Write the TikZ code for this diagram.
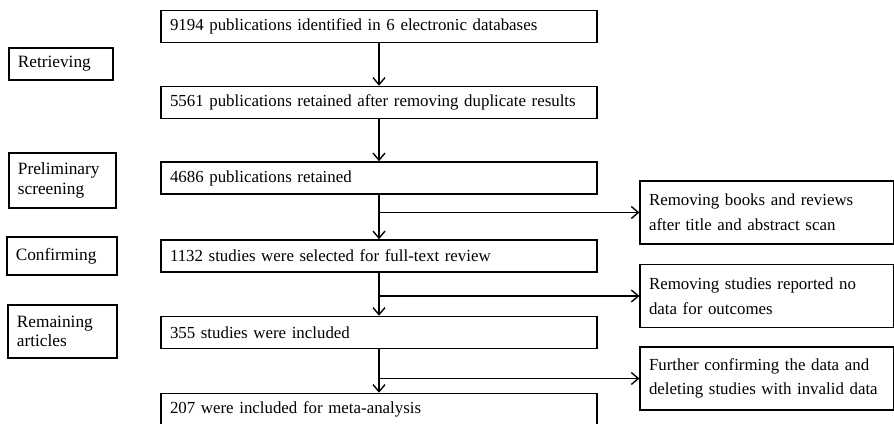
\documentclass[tikz,border=0pt]{standalone}
\usepackage{fontspec}
\setmainfont{Liberation Serif}
\usepackage{tikz}
\usetikzlibrary{arrows.meta,positioning}

\begin{document}
\begin{tikzpicture}[
  mainbox/.style={
    draw=black,
    line width=1.1pt,
    align=left,
    text width=10.45cm,
    minimum height=0.8cm,
    inner xsep=0.22cm,
    inner ysep=3pt
  },
  sidebox/.style={
    draw=black,
    line width=1.1pt,
    align=left,
    text width=5.9cm,
    minimum height=1.575cm,
    inner xsep=0.22cm,
    font=\fontsize{12}{17.5}\selectfont
  },
  stagebox/.style={
    draw=black,
    line width=1.1pt,
    align=left,
    inner xsep=0.22cm,
    font=\fontsize{12.3}{14}\selectfont
  },
  arrow/.style={-{Straight Barb[length=5pt,width=8.5pt]}, line width=1pt},
  every node/.style={font=\fontsize{12}{14}\selectfont}
]
\useasboundingbox (0,0) rectangle (22.35,-10.6);

% stage labels
\node[stagebox, text width=2.16cm, minimum height=0.8cm] (retrieve) at (1.525,-1.6) {Retrieving};
\node[stagebox, text width=2.23cm, minimum height=1.375cm] (screen) at (1.5625,-4.5125) {Preliminary\\screening};
\node[stagebox, text width=2.31cm, minimum height=0.95cm] (confirm) at (1.55,-6.4) {Confirming};
\node[stagebox, text width=2.28cm, minimum height=1.325cm] (remain) at (1.5625,-8.2875) {Remaining\\articles};

% main flow
\node[mainbox] (found) at (9.475,-0.6625) {9194 publications identified in 6 electronic databases};
\node[mainbox] (dedup) at (9.475,-2.5625) {5561 publications retained after removing duplicate results};
\node[mainbox] (kept) at (9.475,-4.45) {4686 publications retained};
\node[mainbox] (fulltext) at (9.475,-6.4) {1132 studies were selected for full-text review};
\node[mainbox] (included) at (9.475,-8.3125) {355 studies were included};
\node[mainbox] (meta) at (9.475,-10.2375) {207 were included for meta-analysis};

% exclusions
\node[sidebox] (drop1) at (19.175,-5.3125) {Removing books and reviews\\after title and abstract scan};
\node[sidebox] (drop2) at (19.175,-7.4) {Removing studies reported no\\data for outcomes};
\node[sidebox] (drop3) at (19.175,-9.4625) {Further confirming the data and\\deleting studies with invalid data};

\coordinate (cut1) at (kept.south |- drop1.west);
\coordinate (cut2) at (kept.south |- drop2.west);
\coordinate (cut3) at (kept.south |- drop3.west);

\draw[arrow] (found) -- (dedup);
\draw[arrow] (dedup) -- (kept);
\draw[arrow] (kept) -- (fulltext);
\draw[arrow] (fulltext) -- (included);
\draw[arrow] (included) -- (meta);
\draw[arrow] (cut1) -- (drop1);
\draw[arrow] (cut2) -- (drop2);
\draw[arrow] (cut3) -- (drop3);
\end{tikzpicture}
\end{document}
